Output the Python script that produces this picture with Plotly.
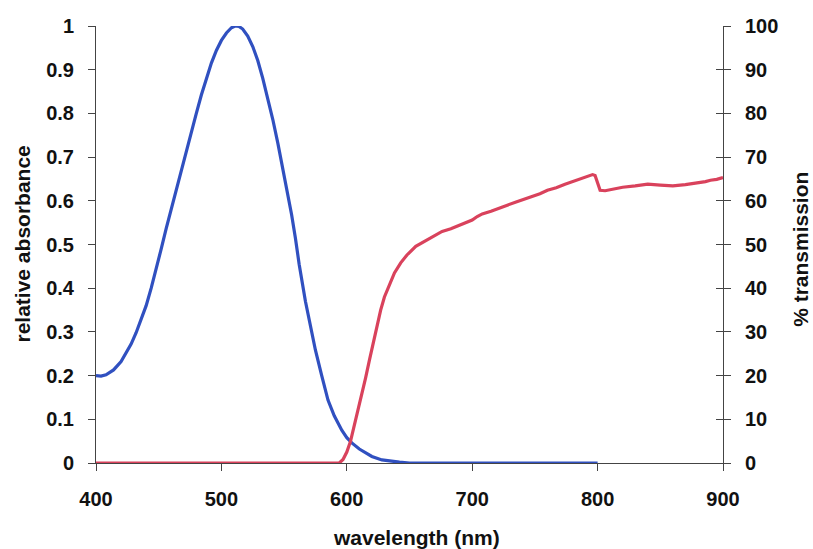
import plotly.graph_objects as go

# Relative absorbance (blue), 400-800 nm
abs_wl = [400, 404, 408, 414, 420, 424, 428, 432, 436, 440, 444, 448, 452, 456, 460, 464, 468,
          472, 476, 480, 484, 488, 492, 496, 500, 504, 508, 511, 514, 517, 521, 525, 529, 533,
          537, 541, 545, 549, 553, 556, 559, 562, 567, 571, 575, 580, 585, 590, 596, 600, 604,
          610, 615, 620, 628, 635, 642, 650, 700, 750, 800]
abs_val = [0.200, 0.199, 0.202, 0.213, 0.232, 0.251, 0.272, 0.298, 0.328, 0.360, 0.400, 0.442,
           0.490, 0.537, 0.582, 0.624, 0.668, 0.712, 0.757, 0.800, 0.842, 0.880, 0.915, 0.944,
           0.967, 0.984, 0.996, 1.000, 0.999, 0.993, 0.977, 0.953, 0.921, 0.880, 0.835, 0.786,
           0.732, 0.675, 0.615, 0.568, 0.515, 0.455, 0.370, 0.310, 0.258, 0.200, 0.144, 0.108,
           0.075, 0.058, 0.046, 0.032, 0.023, 0.015, 0.007, 0.004, 0.002, 0.000, 0.000, 0.000, 0.000]

# % transmission (red), 400-900 nm
tr_wl = [400, 500, 594, 597, 600, 603, 606, 609, 612, 615, 618, 621, 624, 627, 630, 634, 638,
         643, 648, 655, 665, 676, 683, 690, 695, 700, 704, 708, 715, 720, 728, 735, 742, 747,
         754, 760, 767, 774, 780, 786, 791, 796, 798, 800, 802, 806, 812, 820, 830, 840, 850,
         860, 870, 880, 886, 890, 895, 900]
tr_val = [0.0, 0.0, 0.0, 0.8, 2.5, 5.0, 8.5, 12.0, 15.5, 19.5, 23.5, 27.5, 31.5, 35.0, 38.0,
          41.0, 43.5, 45.8, 47.6, 49.6, 51.3, 53.0, 53.6, 54.5, 55.0, 55.6, 56.4, 57.0, 57.6,
          58.2, 59.0, 59.7, 60.4, 61.0, 61.6, 62.4, 63.0, 63.8, 64.4, 65.0, 65.4, 66.0, 65.8,
          64.0, 62.4, 62.3, 62.6, 63.1, 63.4, 63.8, 63.6, 63.4, 63.7, 64.1, 64.4, 64.7, 64.9, 65.3]

x_ticks = [400, 500, 600, 700, 800, 900]
left_ticks = [0, 0.1, 0.2, 0.3, 0.4, 0.5, 0.6, 0.7, 0.8, 0.9, 1]
left_labels = ["0", "0.1", "0.2", "0.3", "0.4", "0.5", "0.6", "0.7", "0.8", "0.9", "1"]
right_ticks = [0, 10, 20, 30, 40, 50, 60, 70, 80, 90, 100]

BLUE = "#3050c0"
RED = "#d9425c"
AX = "#444444"
FONT = "Liberation Sans, Arial, sans-serif"

fig = go.Figure()
fig.add_trace(go.Scatter(x=tr_wl, y=tr_val, mode="lines", yaxis="y2",
                         line=dict(color=RED, width=3.2), showlegend=False))
fig.add_trace(go.Scatter(x=abs_wl, y=abs_val, mode="lines", yaxis="y",
                         line=dict(color=BLUE, width=3.2), showlegend=False))
# empty trace so the inner-tick overlay axis is drawn
fig.add_trace(go.Scatter(x=[], y=[], yaxis="y3", showlegend=False, hoverinfo="skip"))

tickfont = dict(family=FONT, size=20, color="#111111")
titlefont = dict(family=FONT, size=21, color="#111111")

common = dict(ticks="outside", ticklen=7, tickcolor=AX, tickwidth=1, automargin=False,
              showline=True, linecolor=AX, linewidth=1, showgrid=False, zeroline=False,
              tickfont=tickfont)

fig.update_layout(
    width=813, height=549,
    margin=dict(l=96, r=90, t=26, b=86, autoexpand=False),
    paper_bgcolor="white", plot_bgcolor="white",
    font=dict(family=FONT, color="#111111"),
    xaxis=dict(range=[400, 900], tickvals=x_ticks, ticktext=[f"<b>{v}</b>" for v in x_ticks],
               ticklabelstandoff=11, **common),
    yaxis=dict(range=[0, 1], tickvals=left_ticks, ticktext=[f"<b>{t}</b>" for t in left_labels],
               ticklabelstandoff=10, **common),
    yaxis2=dict(range=[0, 100], tickvals=right_ticks, ticktext=[f"<b>{t}</b>" for t in right_ticks],
                overlaying="y", side="right", anchor="x", ticklabelstandoff=10, **common),
    yaxis3=dict(range=[0, 100], tickvals=right_ticks, overlaying="y", side="right", anchor="x",
                ticks="inside", ticklen=7, tickcolor=AX, tickwidth=1, showticklabels=False,
                showline=False, showgrid=False, zeroline=False, automargin=False),
    annotations=[
        dict(text="<b>wavelength (nm)</b>", xref="paper", yref="paper", x=0.5104, y=-0.1716,
             xanchor="center", yanchor="middle", showarrow=False, font=titlefont),
        dict(text="<b>relative absorbance</b>", xref="paper", yref="paper", x=-0.118, y=0.5,
             xanchor="center", yanchor="middle", textangle=-90, showarrow=False, font=titlefont),
        dict(text="<b>% transmission</b>", xref="paper", yref="paper", x=1.1244, y=0.49,
             xanchor="center", yanchor="middle", textangle=-90, showarrow=False, font=titlefont),
    ],
)

fig.write_html("out.html", config={"displayModeBar": False},
               post_script="document.body.style.margin='0';document.body.style.padding='0';")
